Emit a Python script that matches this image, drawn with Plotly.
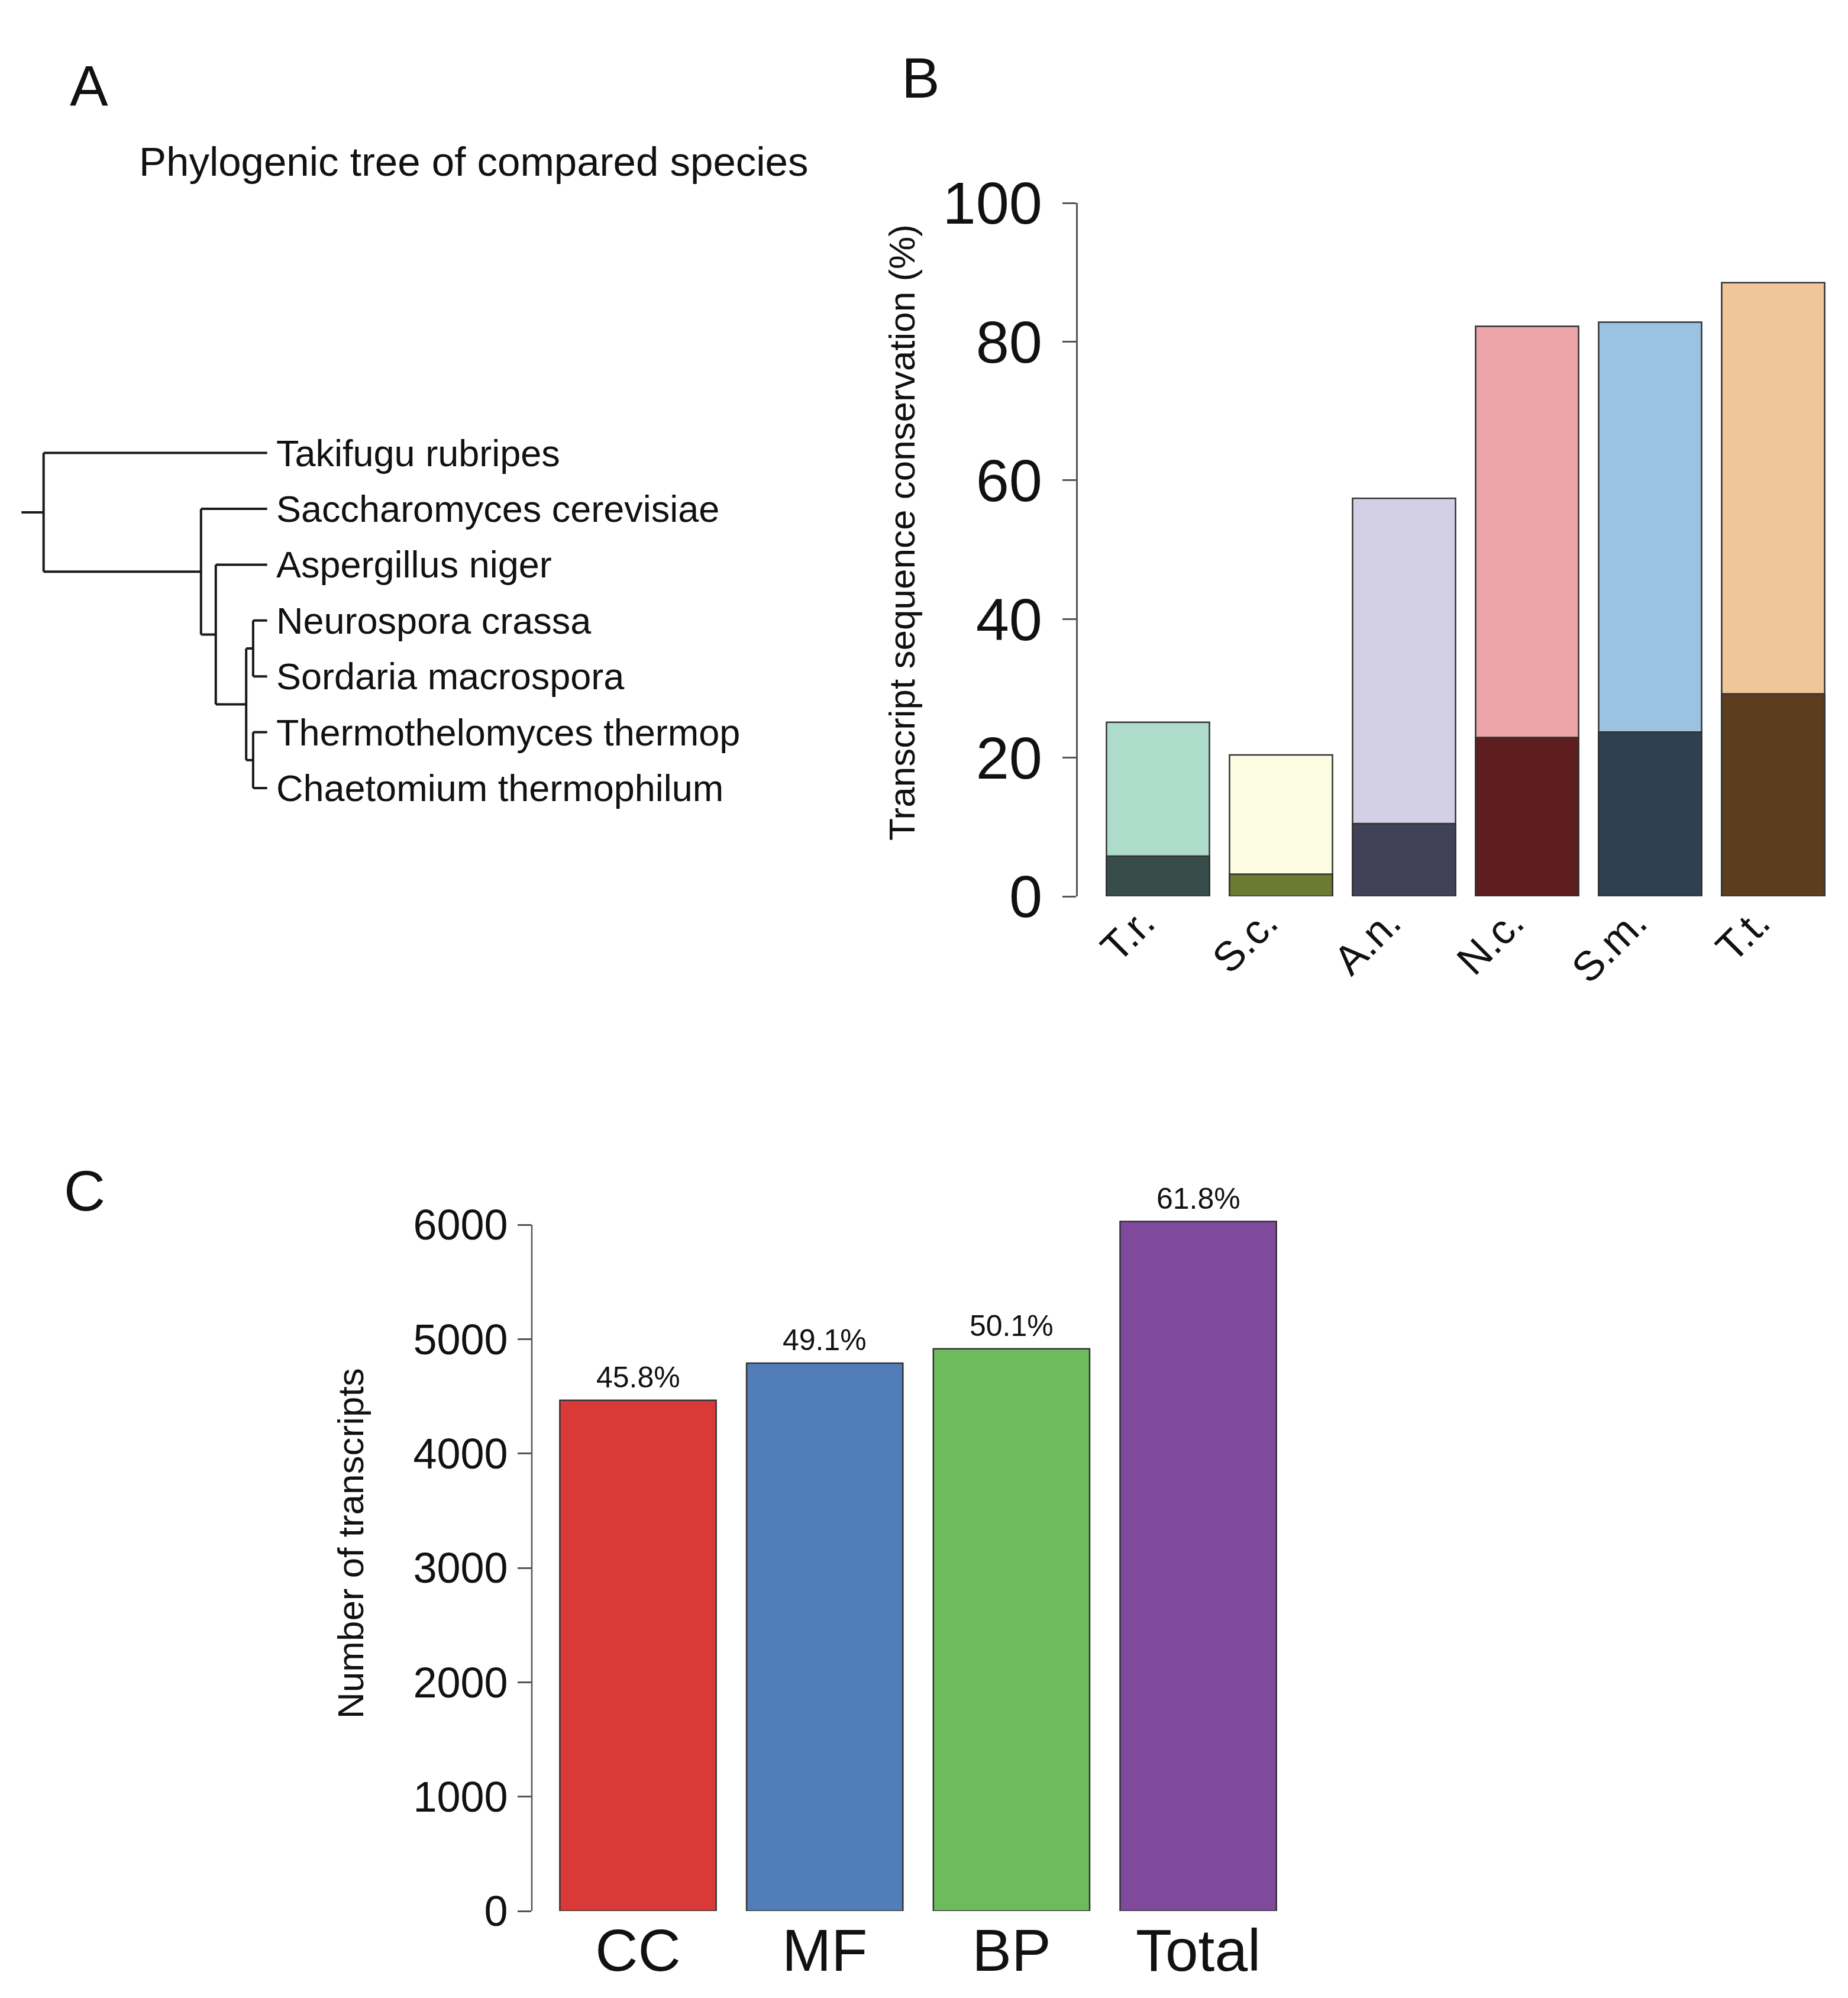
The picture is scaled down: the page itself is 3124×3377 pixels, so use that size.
# # Figure — phylogeny, transcript conservation and GO annotation counts
# Three panels on one page: A tree, B stacked conservation bars, C GO bars

import plotly.graph_objects as go

# ## Data

TIPS = [
    "Takifugu rubripes", "Saccharomyces cerevisiae", "Aspergillus niger",
    "Neurospora crassa", "Sordaria macrospora",
    "Thermothelomyces thermop", "Chaetomium thermophilum",
]
# (node depth, children) -- depth measured from root (0) to tips (1)
TREE = (0.0, [
    "Takifugu rubripes",
    (0.704, [
        "Saccharomyces cerevisiae",
        (0.770, [
            "Aspergillus niger",
            (0.906, [
                (0.937, ["Neurospora crassa", "Sordaria macrospora"]),
                (0.937, ["Thermothelomyces thermop", "Chaetomium thermophilum"]),
            ]),
        ]),
    ]),
])
TIP_DEPTH = 1.0
ROOT_STUB = -0.099

SPECIES_ABBR    = ["T.r.", "S.c.", "A.n.", "N.c.", "S.m.", "T.t."]
CONSERVED_TOTAL = [25.1, 20.4, 57.4, 82.2, 82.8, 88.5]
CONSERVED_CORE  = [5.8, 3.2, 10.5, 22.9, 23.7, 29.2]
B_TICKS         = [0, 20, 40, 60, 80, 100]

GO_CATS    = ["CC", "MF", "BP", "Total"]
GO_COUNTS  = [4465, 4790, 4915, 6028]
GO_PCT     = ["45.8%", "49.1%", "50.1%", "61.8%"]
C_TICKS    = [0, 1000, 2000, 3000, 4000, 5000, 6000]

# ## Style

W, H = 3124, 3377
FONT = "Liberation Sans, Arial, Helvetica, sans-serif"
INK, AXIS = "#111111", "#555555"
LIGHT = ["#ADDCCA", "#FCFCE3", "#D3D0E5", "#EBA4A8", "#9BC2E0", "#F1C59A"]
DARK  = ["#384D49", "#6D7A32", "#414157", "#5E1D1F", "#2F4150", "#5C3D1E"]
GO_COLORS = ["#D93A37", "#517EB8", "#6DBB5D", "#7F4A9C"]


def xdom(p0, p1):
    return [p0 / W, p1 / W]


def ydom(top, bottom):
    return [1 - bottom / H, 1 - top / H]


# ## A. Tree segments

def walk(node, segs):
    if isinstance(node, str):
        return TIP_DEPTH, TIPS.index(node)
    depth, children = node
    ys = []
    for ch in children:
        cx, cy = walk(ch, segs)
        segs.append(((depth, cy), (cx, cy)))
        ys.append(cy)
    segs.append(((depth, min(ys)), (depth, max(ys))))
    return depth, (min(ys) + max(ys)) / 2


segs = []
rx, ry = walk(TREE, segs)
segs.append(((ROOT_STUB, ry), (rx, ry)))
tx, ty = [], []
for (x0, y0), (x1, y1) in segs:
    tx += [x0, x1, None]
    ty += [y0, y1, None]

fig = go.Figure()
fig.add_trace(go.Scatter(
    x=tx, y=ty, mode="lines", line=dict(color="#1a1a1a", width=4),
    xaxis="x", yaxis="y", showlegend=False, hoverinfo="skip",
))

# ## B. Conservation bars (light = total, dark = core)

fig.add_trace(go.Bar(
    x=SPECIES_ABBR, y=CONSERVED_TOTAL, xaxis="x2", yaxis="y2",
    marker=dict(color=LIGHT, line=dict(color="#333", width=2.5)),
    showlegend=False,
))
fig.add_trace(go.Bar(
    x=SPECIES_ABBR, y=CONSERVED_CORE, xaxis="x2", yaxis="y2",
    marker=dict(color=DARK, line=dict(color="#333", width=2.5)),
    showlegend=False,
))

# ## C. GO category counts

fig.add_trace(go.Bar(
    x=GO_CATS, y=GO_COUNTS, xaxis="x3", yaxis="y3",
    marker=dict(color=GO_COLORS, line=dict(color="#333", width=2.5)),
    showlegend=False,
))
for cat, n, pct in zip(GO_CATS, GO_COUNTS, GO_PCT):
    fig.add_annotation(x=cat, y=n, xref="x3", yref="y3", text=pct,
                       showarrow=False, yanchor="bottom", yshift=9,
                       font=dict(size=50, color=INK))

# tree axes: root at px 73.7, tips at px 451.7; tip rows 94.4 px apart from 765.6
tr_x0, tr_xs = 73.7, 378.0
tr_y0, tr_ys = 765.6, 94.4
tree_xr = [-0.12, 1.02]
tree_yr = [-0.5, len(TIPS) - 0.5]

# panel B axes: bar centres start at px 1957.5, 208 px apart
b_c0, b_pitch = 1957.5, 208.0
b_xr = [(1822 - b_c0) / b_pitch, len(SPECIES_ABBR) - 0.55]
# panel C axes
c_c0, c_pitch = 1078.5, 315.7
c_xr = [(899 - c_c0) / c_pitch, len(GO_CATS) - 0.55]
c_zero, c_scale = 3230.0, 0.19333
c_top = 6300

axis_off = dict(visible=False, showgrid=False, zeroline=False, automargin=False)
tick_common = dict(ticks="outside", ticklen=23, tickwidth=2.5, tickcolor=AXIS,
                   showgrid=False, zeroline=False, automargin=False)

fig.update_layout(
    width=W, height=H, autosize=False,
    margin=dict(l=0, r=0, t=0, b=0, pad=0),
    paper_bgcolor="white", plot_bgcolor="white",
    font=dict(family=FONT, color=INK),
    barmode="overlay",
    xaxis=dict(axis_off, range=tree_xr,
               domain=xdom(tr_x0 + tr_xs * tree_xr[0], tr_x0 + tr_xs * tree_xr[1])),
    yaxis=dict(axis_off, range=tree_yr[::-1],
               domain=ydom(tr_y0 + tr_ys * tree_yr[0], tr_y0 + tr_ys * tree_yr[1])),
    xaxis2=dict(range=b_xr, anchor="y2", showline=False, ticks="", showgrid=False,
                automargin=False,
                domain=xdom(b_c0 + b_pitch * b_xr[0], b_c0 + b_pitch * b_xr[1]),
                tickangle=-45, tickfont=dict(size=70, color=INK),
                ticklabelstandoff=-12, ticklabelshift=-26),
    yaxis2=dict(tick_common, range=[0, 100], anchor="x2", tickvals=B_TICKS,
                showline=True, linecolor=AXIS, linewidth=2.5,
                domain=ydom(343, 1515), tickfont=dict(size=101, color=INK),
                ticklabelstandoff=14),
    xaxis3=dict(range=c_xr, anchor="y3", showline=False, ticks="", showgrid=False,
                automargin=False,
                domain=xdom(c_c0 + c_pitch * c_xr[0], c_c0 + c_pitch * c_xr[1]),
                tickfont=dict(size=100, color=INK), ticklabelstandoff=0),
    yaxis3=dict(tick_common, range=[0, c_top], anchor="x3", tickvals=C_TICKS,
                showline=False,
                domain=ydom(c_zero - c_scale * c_top, c_zero),
                tickfont=dict(size=72, color=INK), ticklabelstandoff=2),
    bargap=0.163,
)

# C axis line stops at the top tick, R style
fig.add_shape(type="line", xref="x3 domain", yref="y3",
              x0=0, x1=0, y0=min(C_TICKS), y1=max(C_TICKS),
              line=dict(color=AXIS, width=2.5))

# species names at the tips
for i, name in enumerate(TIPS):
    fig.add_annotation(x=TIP_DEPTH, y=i, xref="x", yref="y", text=name,
                       showarrow=False, xanchor="left", yanchor="middle",
                       xshift=13, font=dict(size=63, color=INK))


# panel letters, titles
def paper_note(text, px, py, size, **kw):
    fig.add_annotation(x=px / W, y=1 - py / H, xref="paper", yref="paper",
                       text=text, showarrow=False, font=dict(size=size, color=INK), **kw)


paper_note("A", 116, 144, 97, xanchor="left", yanchor="middle")
paper_note("B", 1522, 131, 97, xanchor="left", yanchor="middle")
paper_note("C", 106, 2012, 97, xanchor="left", yanchor="middle")
paper_note("Phylogenic tree of compared species", 800, 273, 69,
           xanchor="center", yanchor="middle")
paper_note("Transcript sequence conservation (%)", 1524, 900, 62,
           xanchor="center", yanchor="middle", textangle=-90)
paper_note("Number of transcripts", 592, 2609, 62,
           xanchor="center", yanchor="middle", textangle=-90)

# drop the default 8px body margin so the figure sits flush with the window
fig.write_html("out.html", config={"displayModeBar": False},
               post_script="document.body.style.margin='0px';")
